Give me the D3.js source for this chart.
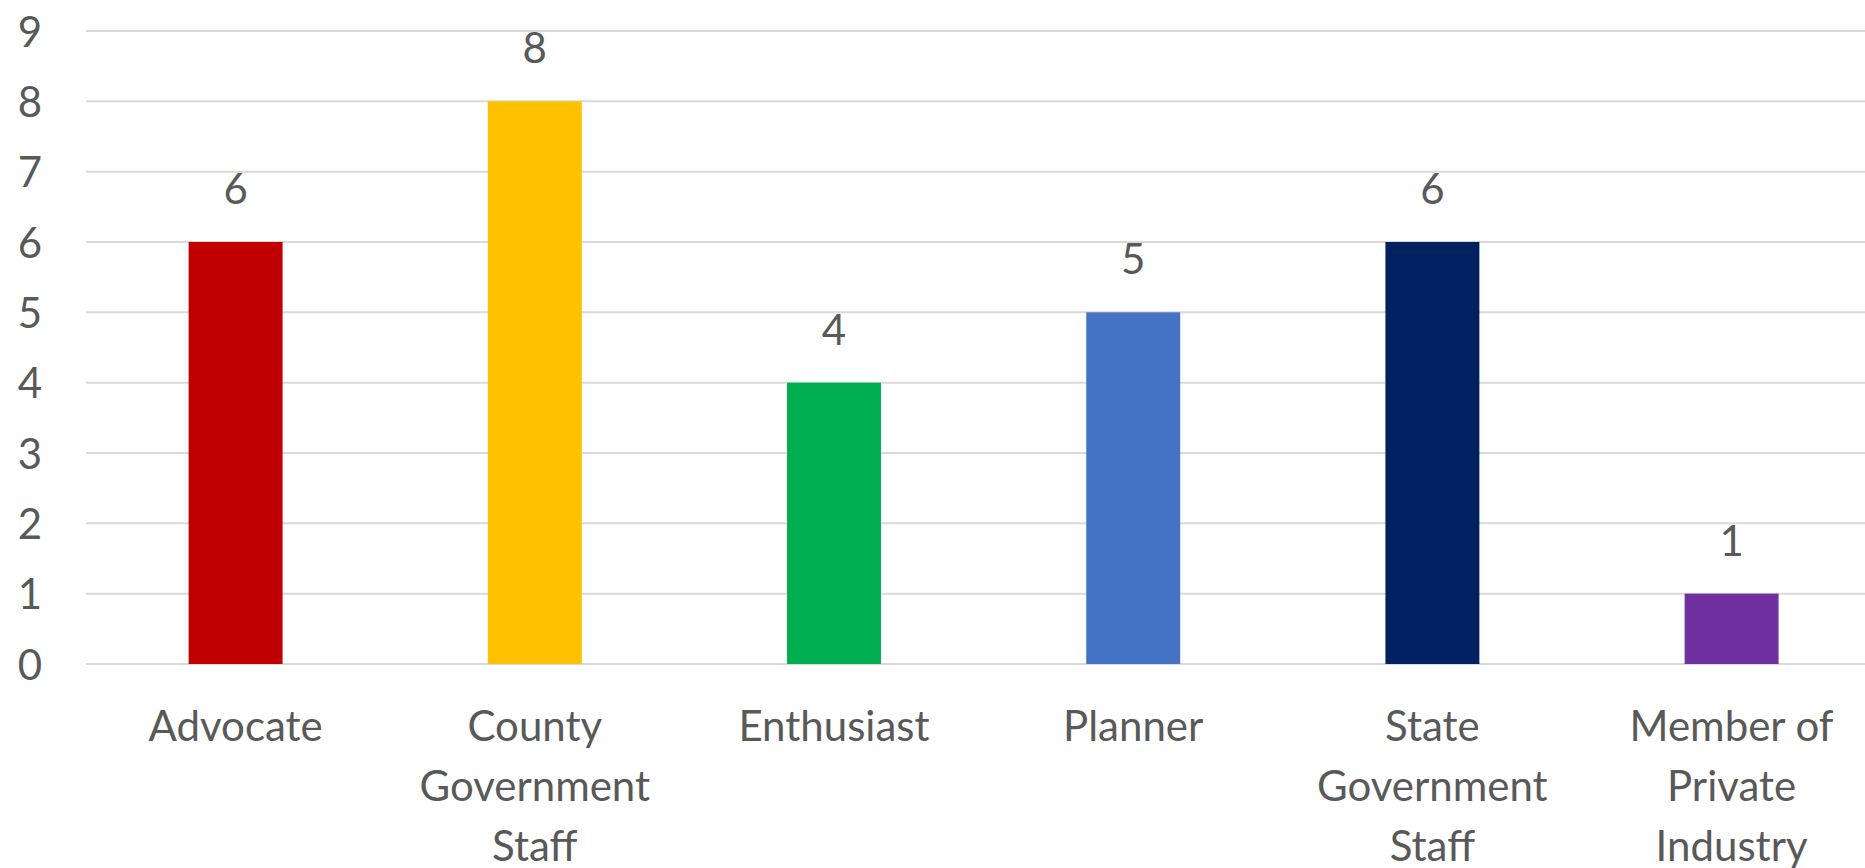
<!DOCTYPE html>
<html>
<head>
<meta charset="utf-8">
<script src="https://cdn.jsdelivr.net/npm/d3@7"></script>
<style>
  body { margin: 0; background: #fff; }
</style>
</head>
<body>
<script>
const categories = ["Advocate", "County Government Staff", "Enthusiast", "Planner", "State Government Staff", "Member of Private Industry"];
const labelLines = [["Advocate"], ["County", "Government", "Staff"], ["Enthusiast"], ["Planner"], ["State", "Government", "Staff"], ["Member of", "Private", "Industry"]];
const counts = [6, 8, 4, 5, 6, 1];
const barColors = ["#C00000", "#FFC000", "#00B050", "#4472C4", "#002060", "#7030A0"];
const yTicks = [0, 1, 2, 3, 4, 5, 6, 7, 8, 9];

function main(){
    const canvasWidth = 1865;
    const canvasHeight = 868;
    const font = "Lato, 'Open Sans', sans-serif";
    const textColor = "#595959";

    const svg = d3.select("body").append("svg")
        .attr("width", canvasWidth)
        .attr("height", canvasHeight)

    const left = 86, top = 31, bottom = 664;
    const step = 299.2;

    const x = d3.scaleBand()
        .domain(categories)
        .range([left, left + step * categories.length])
        .paddingInner(0.686)
        .paddingOuter(0.343)

    const y = d3.scaleLinear()
        .domain([0, 9])
        .range([bottom, top])

    // gridlines
    svg.append("g")
        .selectAll("line")
        .data(yTicks)
        .join("line")
            .attr("x1", left)
            .attr("x2", canvasWidth)
            .attr("y1", d => y(d))
            .attr("y2", d => y(d))
            .attr("stroke", "#d9d9d9")
            .attr("stroke-width", 2)

    // y axis labels
    const yAxis = svg.append("g")
        .attr("transform", "translate(42,0)")
        .call(d3.axisLeft(y).tickValues(yTicks).tickSize(0).tickPadding(0))
    yAxis.select(".domain").remove()
    yAxis.selectAll("text")
        .attr("font-size", "42px")
        .attr("font-family", font)
        .attr("fill", textColor)
        .attr("dy", "0.36em")

    const data = categories.map((c, i) => ({name: c, value: counts[i], color: barColors[i], lines: labelLines[i]}));

    // bars
    svg.append("g")
        .selectAll("rect")
        .data(data)
        .join("rect")
            .attr("x", d => x(d.name))
            .attr("y", d => y(d.value))
            .attr("width", x.bandwidth())
            .attr("height", d => y(0) - y(d.value))
            .attr("fill", d => d.color)

    // value labels
    svg.append("g")
        .selectAll("text")
        .data(data)
        .join("text")
            .attr("x", d => x(d.name) + x.bandwidth() / 2)
            .attr("y", d => y(d.value) - 38)
            .attr("text-anchor", "middle")
            .attr("font-size", "42px")
            .attr("font-family", font)
            .attr("fill", textColor)
            .text(d => d.value)

    // category labels
    const cat = svg.append("g")
        .selectAll("text")
        .data(data)
        .join("text")
            .attr("x", d => x(d.name) + x.bandwidth() / 2)
            .attr("y", 741)
            .attr("text-anchor", "middle")
            .attr("font-size", "42px")
            .attr("font-family", font)
            .attr("fill", textColor)
    cat.selectAll("tspan")
        .data(d => d.lines.map(l => ({l, cx: x(d.name) + x.bandwidth() / 2})))
        .join("tspan")
            .attr("x", d => d.cx)
            .attr("dy", (d, i) => i === 0 ? 0 : 60)
            .text(d => d.l)
}
main();
</script>
</body>
</html>
